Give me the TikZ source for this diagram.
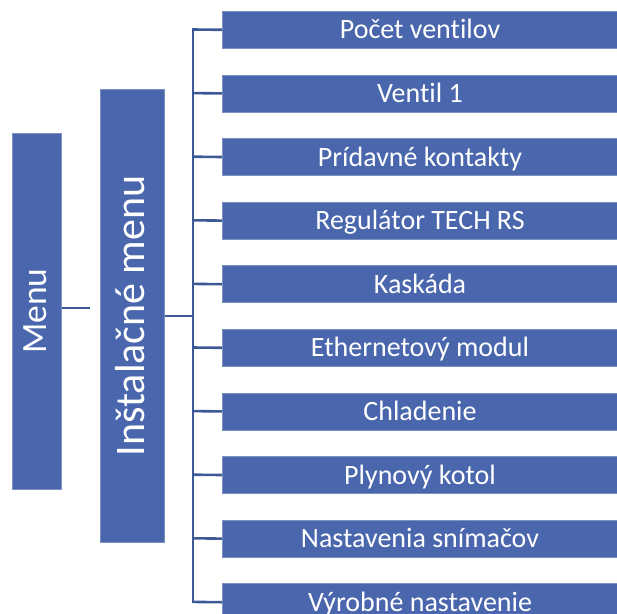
\documentclass[tikz,border=0pt]{standalone}
\usepackage{fontspec}
\setmainfont[Ligatures=NoCommon]{Carlito}
\usetikzlibrary{calc}
\definecolor{boxblue}{HTML}{4A67AD}
\definecolor{boxedge}{HTML}{7D91C4}
\definecolor{linkblue}{HTML}{3D5896}
\begin{document}
\begin{tikzpicture}[x=1pt,y=-1pt,
  box/.style={fill=boxblue,draw=boxedge,line width=0.6pt,text=white,inner sep=0pt,anchor=north west},
  lbl/.style={text=white,inner sep=0pt,anchor=base},
  link/.style={draw=linkblue,line width=2.6pt}]
\useasboundingbox (0,0) rectangle (617,613);
\clip (0,0) rectangle (617,613);
% left boxes
\node[box,minimum width=49pt,minimum height=356pt] (menu) at (12,133) {};
\node[lbl,rotate=90,font=\fontsize{35.5}{40}\selectfont] (menutxt) at ($(menu.center)+(10,0)$) {Menu};
\node[box,minimum width=64pt,minimum height=453pt] (inst) at (100,89) {};
\node[lbl,rotate=90,font=\fontsize{42}{48}\selectfont] (insttxt) at ($(inst.center)+(12,0)$) {Inštalačné menu};
% right boxes
\foreach \t [count=\i from 0] in {Počet ventilov,Ventil 1,Prídavné kontakty,Regulátor TECH RS,Kaskáda,Ethernetový modul,Chladenie,Plynový kotol,Nastavenia snímačov,Výrobné nastavenie}{
  \node[box,minimum width=400pt,minimum height=37pt] (b\i) at (222,{11+63.6*\i}) {};
  \node[lbl,font=\fontsize{28}{32}\selectfont] (t\i) at ($(b\i.west)+(198,9)$) {\t};
  \coordinate (j\i) at (193,{29.5+63.6*\i});
  \draw[link] (j\i) -- (b\i.west);
}
% trunk
\draw[link,line cap=rect] (j0) -- (j9);
% connectors
\coordinate (m1) at (90,308);
\draw[link] (menu.east|-m1) -- (m1);
\coordinate (i1) at (193,316);
\draw[link] (inst.east|-i1) -- (i1);
\end{tikzpicture}
\end{document}
